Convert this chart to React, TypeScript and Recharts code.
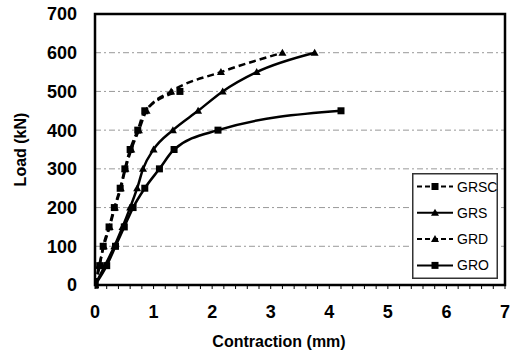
import React from 'react';
import { LineChart, Line, XAxis, YAxis, ReferenceArea, CartesianGrid } from 'recharts';

const GRSC_X = [0, 0.08, 0.14, 0.24, 0.33, 0.43, 0.51, 0.6, 0.73, 0.85, 1.45];
const GRSC_Y = [0, 50, 100, 150, 200, 250, 300, 350, 400, 450, 500];
const GRS_X = [0, 0.17, 0.33, 0.47, 0.6, 0.72, 0.82, 1.0, 1.33, 1.76, 2.18, 2.76, 3.75];
const GRS_Y = [0, 50, 100, 150, 200, 250, 300, 350, 400, 450, 500, 550, 600];
const GRD_X = [0, 0.07, 0.15, 0.25, 0.34, 0.44, 0.52, 0.62, 0.75, 0.88, 1.3, 2.15, 3.2];
const GRD_Y = [0, 50, 100, 150, 200, 250, 300, 350, 400, 450, 500, 550, 600];
const GRO_X = [0, 0.2, 0.35, 0.5, 0.65, 0.85, 1.1, 1.35, 2.1, 4.2];
const GRO_Y = [0, 50, 100, 150, 200, 250, 300, 350, 400, 450];

const X_TICKS = [0, 0.2, 0.4, 0.6, 0.8, 1, 1.2, 1.4, 1.6, 1.8, 2, 2.2, 2.4, 2.6, 2.8, 3, 3.2, 3.4, 3.6, 3.8, 4, 4.2, 4.4, 4.6, 4.8, 5, 5.2, 5.4, 5.6, 5.8, 6, 6.2, 6.4, 6.6, 6.8, 7];
const Y_TICKS = [0, 100, 200, 300, 400, 500, 600, 700];
const X_GRID = [1, 2, 3, 4, 5, 6];
const Y_GRID = [100, 200, 300, 400, 500, 600];
const X_MIN = 0;
const X_MAX = 7;
const Y_MIN = 0;
const Y_MAX = 700;

const SERIES_NAMES = ['GRSC', 'GRS', 'GRD', 'GRO'];

const zip = (xs: number[], ys: number[]) => xs.map((x, i) => ({ x, y: ys[i] }));

const FONT = '"Liberation Sans", Arial, sans-serif';

const Square = (props: any) => {
  const { cx, cy, index } = props;
  if (cx == null || cy == null) return <g key={`s${index}`} />;
  return <rect key={`s${index}`} x={cx - 3.5} y={cy - 3.5} width={7} height={7} fill="#000" />;
};

const Triangle = (props: any) => {
  const { cx, cy, index } = props;
  if (cx == null || cy == null) return <g key={`t${index}`} />;
  return <path key={`t${index}`} d={`M${cx},${cy - 4} L${cx + 4},${cy + 3} L${cx - 4},${cy + 3} Z`} fill="#000" />;
};

const XTick = (props: any) => {
  const { x, y, payload } = props;
  const v = payload.value;
  if (Math.abs(v - Math.round(v)) > 1e-6) return <g />;
  return (
    <text x={x} y={y} dy="0.71em" textAnchor="middle" fontFamily={FONT} fontWeight="bold" fontSize={18} fill="#000">
      {Math.round(v)}
    </text>
  );
};

const YTick = (props: any) => {
  const { x, y, payload } = props;
  return (
    <text x={x} y={y} dy="0.36em" textAnchor="end" fontFamily={FONT} fontWeight="bold" fontSize={18} fill="#000">
      {payload.value}
    </text>
  );
};

const LegendBox = () => {
  const styles = [
    { dash: '5 3', marker: 'square' },
    { dash: undefined, marker: 'triangle' },
    { dash: '5 3', marker: 'triangle' },
    { dash: undefined, marker: 'square' },
  ];
  return (
    <svg width={86} height={106} style={{ display: 'block' }}>
      <rect x={0.75} y={0.75} width={84.5} height={104.5} fill="#fff" stroke="#333" strokeWidth={1.5} />
      {SERIES_NAMES.map((name, i) => {
        const cy = 13.5 + i * 26.3;
        const s = styles[i];
        return (
          <g key={name}>
            <line x1={5} x2={41} y1={cy} y2={cy} stroke="#000" strokeWidth={2} strokeDasharray={s.dash} />
            {s.marker === 'square' ? (
              <rect x={19.5} y={cy - 3.5} width={7} height={7} fill="#000" />
            ) : (
              <path d={`M23,${cy - 4} L27,${cy + 3} L19,${cy + 3} Z`} fill="#000" />
            )}
            <text x={45} y={cy} dy="0.36em" fontFamily={FONT} fontSize={14} fill="#000">
              {name}
            </text>
          </g>
        );
      })}
    </svg>
  );
};

export default function App() {
  return (
    <div style={{ position: 'absolute', left: 0, top: 0, width: 515, height: 353, background: '#fff' }}>
      <LineChart width={515} height={353} margin={{ top: 14, right: 10, bottom: 18, left: 0 }}>
        <CartesianGrid
          stroke="#999999"
          strokeWidth={1}
          strokeDasharray="6 3 2 3"
          vertical={false}
          horizontalValues={Y_GRID}
        />
        <CartesianGrid
          xAxisId="grid"
          stroke="#999999"
          strokeWidth={1}
          strokeDasharray="6 3 2 3"
          horizontal={false}
        />
        <XAxis
          xAxisId="grid"
          type="number"
          domain={[X_MIN, X_MAX]}
          ticks={X_GRID}
          interval={0}
          allowDataOverflow
          hide
        />
        <XAxis
          type="number"
          dataKey="x"
          domain={[X_MIN, X_MAX]}
          ticks={X_TICKS}
          interval={0}
          axisLine={false}
          tickLine={{ stroke: '#000', strokeWidth: 1 }}
          tickSize={4}
          tickMargin={16}
          tick={<XTick />}
          height={50}
          allowDataOverflow
          label={{
            value: 'Contraction  (mm)',
            position: 'insideBottom',
            offset: 2,
            dx: -21,
            dy: 14,
            style: { fontFamily: FONT, fontWeight: 'bold', fontSize: 16, fill: '#000', whiteSpace: 'pre' },
          }}
        />
        <YAxis
          type="number"
          dataKey="y"
          domain={[Y_MIN, Y_MAX]}
          ticks={Y_TICKS}
          interval={0}
          axisLine={false}
          tickLine={false}
          tickSize={0}
          tickMargin={18}
          tick={<YTick />}
          width={95}
          label={{
            value: 'Load (kN)',
            angle: -90,
            position: 'insideLeft',
            offset: 20,
            style: { fontFamily: FONT, fontWeight: 'bold', fontSize: 16, fill: '#000', textAnchor: 'middle' },
          }}
        />
        <ReferenceArea x1={X_MIN} x2={X_MAX} y1={Y_MIN} y2={Y_MAX} fill="none" stroke="#000" strokeWidth={2.5} ifOverflow="visible" />
        <Line
          name="GRO"
          data={zip(GRO_X, GRO_Y)}
          dataKey="y"
          type="monotone"
          stroke="#000"
          strokeWidth={2.5}
          dot={Square}
          isAnimationActive={false}
        />
        <Line
          name="GRS"
          data={zip(GRS_X, GRS_Y)}
          dataKey="y"
          type="monotone"
          stroke="#000"
          strokeWidth={2.5}
          dot={Triangle}
          isAnimationActive={false}
        />
        <Line
          name="GRD"
          data={zip(GRD_X, GRD_Y)}
          dataKey="y"
          type="monotone"
          stroke="#000"
          strokeWidth={2.5}
          strokeDasharray="7 4"
          dot={Triangle}
          isAnimationActive={false}
        />
        <Line
          name="GRSC"
          data={zip(GRSC_X, GRSC_Y)}
          dataKey="y"
          type="monotone"
          stroke="#000"
          strokeWidth={2.5}
          strokeDasharray="7 4"
          dot={Square}
          isAnimationActive={false}
        />
      </LineChart>
      <div style={{ position: 'absolute', left: 412, top: 173, width: 86, height: 106 }}>
        <LegendBox />
      </div>
    </div>
  );
}
